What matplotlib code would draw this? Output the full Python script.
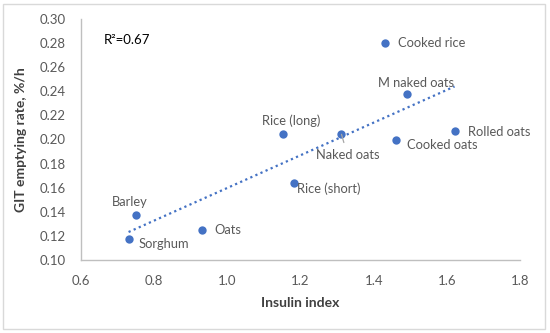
import numpy as np
import matplotlib
matplotlib.use("Agg")
import matplotlib.pyplot as plt
from matplotlib.patches import Rectangle

plt.rcParams['font.family'] = ['Lato', 'DejaVu Sans']

names = ["Cooked rice", "M naked oats", "Rice (long)", "Naked oats", "Cooked oats",
         "Rolled oats", "Rice (short)", "Barley", "Oats", "Sorghum"]
insulin = [1.431, 1.492, 1.152, 1.312, 1.460, 1.621, 1.181, 0.749, 0.930, 0.730]
git_rate = [0.280, 0.238, 0.2046, 0.2043, 0.1996, 0.2068, 0.1642, 0.1373, 0.1249, 0.1174]
xticks = [0.6, 0.8, 1.0, 1.2, 1.4, 1.6, 1.8]
yticks = [0.10, 0.12, 0.14, 0.16, 0.18, 0.20, 0.22, 0.24, 0.26, 0.28, 0.30]
r2_text = "R²=0.67"

# label placement (pixels offset, alignment)
label_style = {
    "Cooked rice": ((13, 0), "left"),
    "M naked oats": ((9, 11), "center"),
    "Rice (long)": ((8, 13), "center"),
    "Naked oats": ((6, -21), "center"),
    "Cooked oats": ((11, -5), "left"),
    "Rolled oats": ((13, -1), "left"),
    "Rice (short)": ((3, -6), "left"),
    "Barley": ((-6, 13), "center"),
    "Oats": ((13, 0), "left"),
    "Sorghum": ((10, -5), "left"),
}

blue = "#4472C4"
gray_txt = "#595959"

fig = plt.figure(figsize=(5.5, 3.33), dpi=100)
fig.patches.append(Rectangle((0.006, 0.012), 0.985, 0.975, transform=fig.transFigure,
                             fill=False, edgecolor="#D9D9D9", linewidth=1.0))
ax = fig.add_axes([0.1473, 0.2192, 0.7982, 0.7238])

x = np.array(insulin)
y = np.array(git_rate)
coef = np.polyfit(x, y, 1)
xl = np.array([x.min(), x.max()])
ax.plot(xl, np.polyval(coef, xl), linestyle=(0, (1, 1.5)), color=blue, linewidth=1.6, zorder=2)

ax.scatter(x, y, s=36, color=blue, zorder=3, linewidths=0)

for n, xi, yi in zip(names, insulin, git_rate):
    (dx, dy), ha = label_style[n]
    if n == "Naked oats":
        ax.annotate(n, (xi, yi), xytext=(dx, dy), textcoords="offset pixels",
                    ha=ha, va="center", fontsize=9.3, color=gray_txt,
                    arrowprops=dict(arrowstyle="-", color="#A6A6A6", lw=0.9,
                                    shrinkA=3, shrinkB=0))
    else:
        ax.annotate(n, (xi, yi), xytext=(dx, dy), textcoords="offset pixels",
                    ha=ha, va="center", fontsize=9.3, color=gray_txt)

ax.text(0.052, 0.913, r2_text, transform=ax.transAxes, fontsize=9.5, color="black",
        ha="left", va="center")

ax.set_xlim(0.6, 1.8)
ax.set_ylim(0.10, 0.30)
ax.set_xticks(xticks)
ax.set_xticklabels([f"{v:.1f}" for v in xticks])
ax.set_yticks(yticks)
ax.set_yticklabels([f"{v:.2f}" for v in yticks])
ax.tick_params(length=0, labelsize=9.5, labelcolor=gray_txt)
ax.tick_params(axis="y", pad=11)
ax.tick_params(axis="x", pad=11)

for s in ["top", "right"]:
    ax.spines[s].set_visible(False)
for s in ["left", "bottom"]:
    ax.spines[s].set_color("#BFBFBF")
    ax.spines[s].set_linewidth(1.0)

ax.set_xlabel("Insulin index", fontsize=10, fontweight="bold", color="#404040", labelpad=7)
ax.set_ylabel("GIT emptying rate, %/h", fontsize=10, fontweight="bold", color="#404040", labelpad=9)

fig.savefig("out.png", dpi=100)
